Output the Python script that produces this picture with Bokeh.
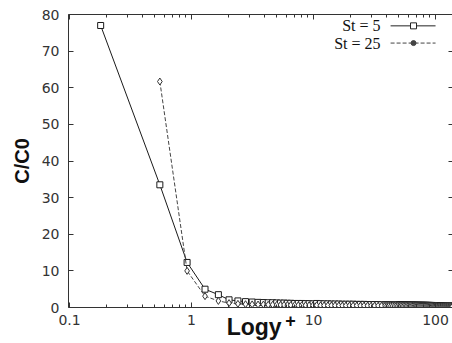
from bokeh.plotting import figure
from bokeh.models import (LogAxis, LinearAxis, Label, CustomJSTickFormatter,
                          FixedTicker, Range1d)
from bokeh.embed import file_html
from bokeh.resources import INLINE

# ---------------- data ----------------
yplus_near = [0.18, 0.55, 0.92, 1.29, 1.66, 2.03, 2.40, 2.77, 3.14, 3.51, 3.88,
              4.25, 4.62, 4.99, 5.36, 5.73, 6.10, 6.5, 7.0, 7.5, 8.0, 8.6, 9.2,
              9.9, 10.6, 11.4, 12.2, 13.1, 14.0, 15.0, 16.1, 17.2, 18.4, 19.7,
              21.1, 22.6, 24.2, 25.9, 27.7, 29.6, 31.6, 33.8, 36.1, 38.6]
yplus_far = [40, 41.5, 43, 44.5, 46, 47.5, 49, 50.5, 52, 53.5,
             55, 56.5, 58, 59.5, 61, 62.5, 64, 65.5, 67, 68.5,
             70, 71.5, 73, 74.5, 76, 77.5, 79, 80.5, 82, 83.5,
             85, 86.5, 88, 89.5, 91, 92.5, 94, 95.5, 97, 98.5,
             100, 101.5, 103, 104.5, 106, 107.5, 109, 110.5, 112, 113.5,
             115, 116.5, 118, 119.5, 121, 122.5, 124, 125.5, 127, 128.5,
             130, 131.5, 133, 134.5, 136, 137.5]

c_st5_near = [77.0, 33.5, 12.3, 5.0, 3.5, 2.1, 1.8, 1.6, 1.5, 1.4, 1.35, 1.3,
              1.3, 1.25, 1.2, 1.2, 1.15, 1.15, 1.1, 1.1, 1.1, 1.05, 1.05, 1.0,
              1.1, 1.05, 1.0, 1.0, 0.95, 0.95, 0.95, 0.9, 0.9, 0.9, 0.9, 0.85,
              0.85, 0.85, 0.8, 0.8, 0.8, 0.8, 0.75, 0.75]
c_st5_far = [0.75, 0.75, 0.74, 0.74, 0.73, 0.72, 0.72, 0.71, 0.7, 0.7,
             0.69, 0.69, 0.68, 0.67, 0.67, 0.66, 0.66, 0.65, 0.65, 0.64,
             0.63, 0.63, 0.62, 0.62, 0.61, 0.61, 0.6, 0.6, 0.59, 0.59,
             0.58, 0.58, 0.57, 0.57, 0.56, 0.56, 0.55, 0.55, 0.55, 0.54,
             0.54, 0.53, 0.53, 0.52, 0.52, 0.52, 0.51, 0.51, 0.5, 0.5,
             0.5, 0.49, 0.49, 0.49, 0.48, 0.48, 0.48, 0.47, 0.47, 0.47,
             0.46, 0.46, 0.46, 0.45, 0.45, 0.45]

c_st25_near = [61.7, 10.0, 3.1, 1.8, 1.2, 1.0, 0.9, 0.85, 0.8, 0.8,
               0.75, 0.75, 0.7, 0.7, 0.7, 0.65, 0.65, 0.65, 0.6, 0.6,
               0.6, 0.6, 0.6, 0.6, 0.55, 0.55, 0.55, 0.55, 0.55, 0.5,
               0.5, 0.5, 0.5, 0.5, 0.5, 0.48, 0.48, 0.47, 0.47, 0.46,
               0.46, 0.46, 0.45]
c_st25_far = [0.45, 0.45, 0.44, 0.44, 0.43, 0.43, 0.42, 0.42, 0.41, 0.41,
              0.4, 0.4, 0.4, 0.39, 0.39, 0.38, 0.38, 0.38, 0.37, 0.37,
              0.36, 0.36, 0.36, 0.35, 0.35, 0.35, 0.34, 0.34, 0.34, 0.33,
              0.33, 0.33, 0.32, 0.32, 0.32, 0.31, 0.31, 0.31, 0.3, 0.3,
              0.3, 0.3, 0.29, 0.29, 0.29, 0.29, 0.28, 0.28, 0.28, 0.28,
              0.27, 0.27, 0.27, 0.27, 0.26, 0.26, 0.26, 0.26, 0.26, 0.25,
              0.25, 0.25, 0.25, 0.25, 0.25, 0.25]

yplus_st5 = yplus_near + yplus_far
c_st5 = c_st5_near + c_st5_far
yplus_st25 = yplus_near[1:] + yplus_far
c_st25 = c_st25_near + c_st25_far

x_ticks = [0.1, 1, 10, 100]
x_minor = [0.2, 0.3, 0.4, 0.5, 0.6, 0.7, 0.8, 0.9,
           2, 3, 4, 5, 6, 7, 8, 9,
           20, 30, 40, 50, 60, 70, 80, 90]
y_ticks = [0, 10, 20, 30, 40, 50, 60, 70, 80]
series_names = ["St = 5", "St = 25"]
x_title = "Logy"
x_title_sup = "+"
y_title = "C/C0"

NB = "\u00a0"

# ---------------- figure ----------------
AX = "#333333"
p = figure(width=452, height=343, x_axis_type="log", output_backend="svg",
           toolbar_location=None, x_range=Range1d(0.0981, 137.7),
           y_range=Range1d(0, 80), min_border_left=68, min_border_top=14,
           min_border_bottom=36, min_border_right=0, outline_line_color=None,
           background_fill_color="white", border_fill_color="white")
p.grid.visible = False

tick_fmt = CustomJSTickFormatter(code="return tick < 1 ? tick.toFixed(1) : tick.toFixed(0);")
blank_fmt = CustomJSTickFormatter(code="return ' ';")

xa = p.xaxis[0]
xa.ticker = FixedTicker(ticks=x_ticks, minor_ticks=x_minor)
xa.formatter = tick_fmt
xa.major_tick_in = 5
xa.major_tick_out = 0
xa.minor_tick_in = 3
xa.minor_tick_out = 0
xa.axis_line_color = AX
xa.major_tick_line_color = AX
xa.minor_tick_line_color = AX
xa.major_label_text_font = "DejaVu Sans"
xa.major_label_text_font_size = "14px"
xa.major_label_text_color = "#333333"
xa.major_label_standoff = 7
# superscript "+" of the x title (first axis below the frame)
xa.axis_label = NB * 12 + x_title_sup
xa.axis_label_text_font = "Liberation Sans"
xa.axis_label_text_font_style = "bold"
xa.axis_label_text_font_size = "18px"
xa.axis_label_text_color = "#111111"
xa.axis_label_standoff = -17

# main x title "Logy" on a second, tick-less axis just below
title_axis = LogAxis(ticker=FixedTicker(ticks=[], minor_ticks=[]),
                     formatter=blank_fmt, major_label_text_font_size="1px",
                     major_label_text_color=None, major_label_standoff=0,
                     major_tick_out=0, minor_tick_out=0, major_tick_in=0,
                     minor_tick_in=0, axis_line_color=None,
                     axis_label=x_title + NB * 2,
                     axis_label_text_font="Liberation Sans",
                     axis_label_text_font_style="bold",
                     axis_label_text_font_size="23px",
                     axis_label_text_color="#111111",
                     axis_label_standoff=-20)
p.add_layout(title_axis, "below")

ya = p.yaxis[0]
ya.ticker = FixedTicker(ticks=y_ticks, minor_ticks=[])
ya.major_tick_in = 5
ya.major_tick_out = 0
ya.minor_tick_line_color = None
ya.axis_line_color = AX
ya.major_tick_line_color = AX
ya.major_label_text_font = "DejaVu Sans"
ya.major_label_text_font_size = "14px"
ya.major_label_text_color = "#333333"
ya.major_label_standoff = 9
ya.axis_label = y_title
ya.axis_label_text_font = "Liberation Sans"
ya.axis_label_text_font_style = "bold"
ya.axis_label_text_font_size = "20px"
ya.axis_label_text_color = "#111111"
ya.axis_label_standoff = 6

top = LogAxis(ticker=FixedTicker(ticks=x_ticks, minor_ticks=x_minor),
              formatter=blank_fmt, major_label_text_font_size="1px",
              major_label_text_color=None, major_label_standoff=0,
              major_tick_in=5, major_tick_out=0, minor_tick_in=3, minor_tick_out=0,
              axis_line_color=AX, major_tick_line_color=AX, minor_tick_line_color=AX)
p.add_layout(top, "above")

right = LinearAxis(ticker=FixedTicker(ticks=y_ticks, minor_ticks=[]),
                   formatter=blank_fmt, major_label_text_font_size="1px",
                   major_label_text_color=None, major_label_standoff=0,
                   major_tick_in=4, major_tick_out=0, minor_tick_line_color=None,
                   axis_line_color=None, major_tick_line_color=AX)
p.add_layout(right, "right")

# ---------------- series ----------------
p.line(yplus_st5, c_st5, line_color="#1a1a1a", line_width=1)
p.scatter(yplus_st5, c_st5, marker="square", size=6, fill_color="white",
          line_color="#1a1a1a", line_width=1)
p.line(yplus_st25, c_st25, line_color="#444444", line_width=1, line_dash="4 2")
p.scatter(yplus_st25, c_st25, marker="diamond", size=7, fill_color="white",
          line_color="#333333", line_width=1)

# ---------------- legend (gnuplot style: text left of sample) ----------------
leg_text_x = 35.4
leg_line = (42.8, 100.0)
leg_mark_x = 66.0
leg_rows = [76.9, 72.2]
styles = [dict(line_dash="solid", marker="square", size=6, color="#222222"),
          dict(line_dash="4 2", marker="circle", size=5, color="#444444")]
for name, yrow, st in zip(series_names, leg_rows, styles):
    p.add_layout(Label(x=leg_text_x, y=yrow, text=name, text_align="right",
                       text_baseline="middle", text_font="Liberation Serif",
                       text_font_size="16px", text_color="#111111"))
    p.line(list(leg_line), [yrow, yrow], line_color=st["color"], line_width=1,
           line_dash=st["line_dash"])
    p.scatter([leg_mark_x], [yrow], marker=st["marker"], size=st["size"],
              fill_color="white" if st["marker"] == "square" else st["color"],
              line_color=st["color"])

open("out.html", "w").write(file_html(p, INLINE))
